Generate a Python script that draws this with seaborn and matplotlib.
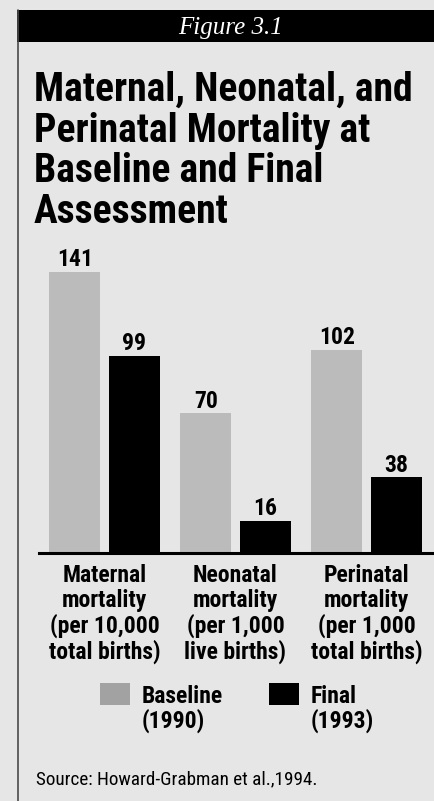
import matplotlib
matplotlib.use("Agg")
import matplotlib.pyplot as plt
import seaborn as sns
import pandas as pd
from matplotlib.patches import Rectangle
from matplotlib.lines import Line2D

# ---- data ----
categories = ["Maternal\nmortality\n(per 10,000\ntotal births)",
              "Neonatal\nmortality\n(per 1,000\nlive births)",
              "Perinatal\nmortality\n(per 1,000\ntotal births)"]
periods = ["Baseline\n(1990)", "Final\n(1993)"]
baseline_values = [141, 70, 102]
final_values = [99, 16, 38]
title = "Maternal, Neonatal, and\nPerinatal Mortality at\nBaseline and Final\nAssessment"
figure_label = "Figure 3.1"
source = "Source: Howard-Grabman et al.,1994."

df = pd.DataFrame({
    "category": categories * 2,
    "period": [periods[0]] * 3 + [periods[1]] * 3,
    "value": baseline_values + final_values,
})

BG = "#e6e6e6"
BAR_COLORS = ["#bbbbbb", "#000000"]
LEGEND_COLORS = ["#a2a2a2", "#000000"]
COND = ["Roboto Condensed", "Archivo Narrow", "DejaVu Sans"]

W, H = 434, 801
DPI = 100
sns.set_theme(style="white")
plt.rcParams["font.family"] = COND
plt.rcParams["text.color"] = "black"
plt.rcParams["xtick.color"] = "black"
plt.rcParams["axes.labelcolor"] = "black"

fig = plt.figure(figsize=(W / DPI, H / DPI), dpi=DPI, facecolor=BG)

def fx(px):
    return px / W

def fy(py):
    return 1 - py / H

# frame: left border and top black banner
fig.add_artist(Line2D([fx(17.5), fx(17.5)], [fy(10), fy(H)], color="#4a4a4a", lw=1.2))
fig.add_artist(Rectangle((fx(17), fy(42)), fx(W) - fx(17), fy(10) - fy(42),
                         facecolor="black", edgecolor="none"))
fig.text(fx(231), fy(34), figure_label, color="white", fontsize=18, style="italic",
         family=["Liberation Serif", "DejaVu Serif"], ha="center", va="baseline")

# title (va='baseline' anchors the last line's baseline)
fig.text(fx(34), fy(223), title, fontsize=28.5, fontweight="bold", ha="left",
         va="baseline", linespacing=1.09)

# axes
top_val = 150
ax = fig.add_axes([fx(39), fy(553), fx(432) - fx(39), fy(553 - top_val * 1.993) - fy(553)])
ax.set_facecolor(BG)
sns.barplot(data=df, x="category", y="value", hue="period", palette=BAR_COLORS,
            width=0.9008, gap=0.1356, legend=False, ax=ax, saturation=1,
            edgecolor="none", linewidth=0)
ax.set_xlim(-0.5, 2.5)
ax.set_ylim(0, top_val)
for c in ax.containers:
    ax.bar_label(c, fmt="%d", padding=0.5, fontsize=17, fontweight="bold")
for s in ["top", "right", "left"]:
    ax.spines[s].set_visible(False)
ax.spines["bottom"].set_linewidth(2.2)
ax.spines["bottom"].set_color("black")
ax.set_yticks([])
ax.set_xlabel("")
ax.set_ylabel("")
ax.tick_params(axis="x", length=0, pad=8)
for lab in ax.get_xticklabels():
    lab.set_fontweight("bold")
    lab.set_fontsize(17)
    lab.set_linespacing(1.09)

# legend
leg_x = [100, 269]
for i, p in enumerate(periods):
    fig.add_artist(Rectangle((fx(leg_x[i]), fy(705)), fx(30), fy(683) - fy(705),
                             facecolor=LEGEND_COLORS[i], edgecolor="none"))
    fig.text(fx(leg_x[i] + 42), fy(728), p, fontsize=17, fontweight="bold",
             ha="left", va="baseline", linespacing=1.05)

# source
fig.text(fx(36), fy(784), source, fontsize=13.8, ha="left", va="baseline")

fig.savefig("out.png", dpi=DPI, facecolor=BG)
